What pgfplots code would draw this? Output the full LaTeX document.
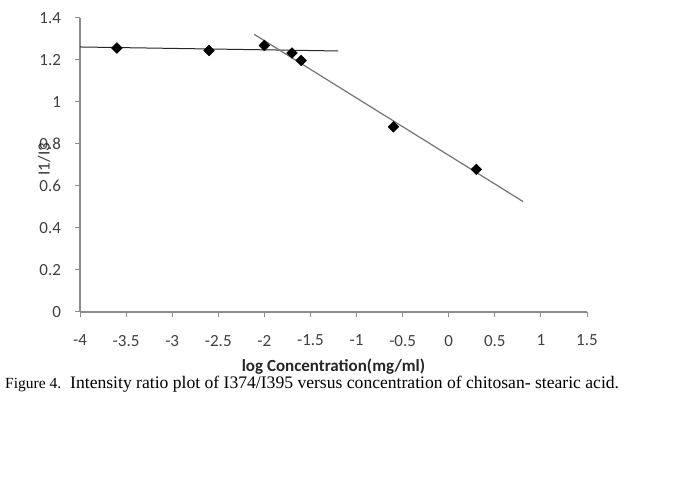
\documentclass[border=0pt]{standalone}
\usepackage{fontspec}
\setmainfont{Carlito}
\newfontfamily\timesfont{Liberation Serif}
\usepackage{pgfplots}
\pgfplotsset{compat=1.18}
\begin{document}
\begin{tikzpicture}
\useasboundingbox (0,0) rectangle (685pt,484pt);
\begin{axis}[
  at={(80pt,172pt)}, anchor=south west,
  scale only axis, width=507pt, height=294pt,
  xmin=-4, xmax=1.5, ymin=0, ymax=1.4,
  axis lines=left,
  axis line style={-, draw=black!45, line width=1.6pt},
  xtick={-4,-3.5,...,1.5},
  ytick={0,0.2,...,1.4},
  tick align=outside, major tick length=5pt,
  tick style={draw=black!45, line width=1pt},
  /pgf/number format/assume math mode=true,
  ticklabel style={font=\fontsize{17}{19}\selectfont, text=black!75},
  xticklabel style={yshift=-14.5pt},
  yticklabel style={xshift=-10.5pt},
  xlabel={log Concentration(mg/ml)},
  xlabel style={font=\fontsize{17}{19}\selectfont\bfseries, text=black!85, at={(axis description cs:0.5,-0.2007)}, anchor=base},
  ylabel={I1/I3},
  ylabel style={font=\fontsize{17}{19}\selectfont, text=black!80, at={(axis description cs:-0.071,0.52)}, anchor=center, rotate=0},
  clip=false,
]
\addplot[draw=black!85, line width=1pt] coordinates {(-4,1.262) (-1.20,1.243)};
\addplot[draw=black!55, line width=1.2pt] coordinates {(-2.11,1.322) (0.806,0.526)};
\addplot[only marks, mark=square*, mark size=3.8pt, mark options={rotate=45, fill=black, draw=black}] coordinates {
(-3.60,1.257) (-2.60,1.245) (-2.00,1.269) (-1.70,1.233) (-1.60,1.198) (-0.60,0.882) (0.30,0.679)};
\end{axis}
\node[anchor=base west, inner sep=0pt] at (5pt,95pt) {\timesfont\fontsize{15.5}{17}\selectfont Figure 4.};
\node[anchor=base west, inner sep=0pt] at (70pt,95pt) {\timesfont\fontsize{17.6}{20}\selectfont Intensity ratio plot of I374/I395 versus concentration of chitosan- stearic acid.};
\end{tikzpicture}
\end{document}
